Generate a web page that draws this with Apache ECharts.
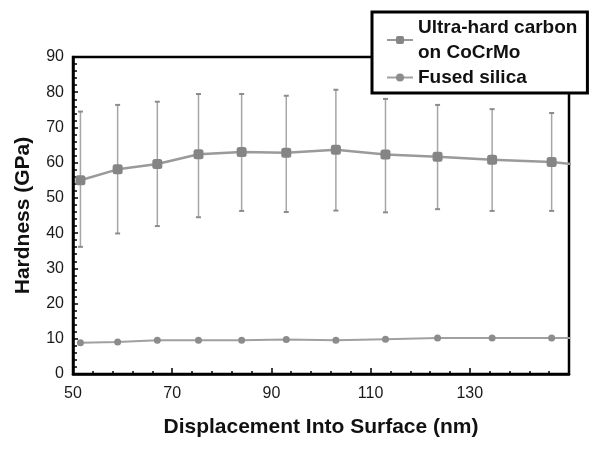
<!DOCTYPE html>
<html>
<head>
<meta charset="utf-8">
<script src="https://cdn.jsdelivr.net/npm/echarts@6/dist/echarts.min.js"></script>
<style>
  html, body { margin: 0; padding: 0; background: #fff; }
  #chart { width: 602px; height: 453px; }
</style>
</head>
<body>
<div id="chart"></div>
<script>
// displacement (nm) of each indent depth
const depth = [51.5, 59, 67, 75.3, 84, 93, 103, 113, 123.5, 134.5, 146.5]
// ultra-hard carbon on CoCrMo: mean hardness and error bar limits (GPa)
const carbonMean = [55.0, 58.1, 59.6, 62.4, 63.0, 62.8, 63.7, 62.3, 61.7, 60.8, 60.2]
const carbonLow = [36.1, 39.9, 42.0, 44.5, 46.3, 46.0, 46.4, 45.9, 46.8, 46.3, 46.3]
const carbonHigh = [74.5, 76.4, 77.3, 79.5, 79.5, 79.0, 80.7, 78.1, 76.4, 75.2, 74.1]
// fused silica mean hardness (GPa)
const silicaMean = [8.9, 9.1, 9.6, 9.6, 9.6, 9.8, 9.6, 9.9, 10.2, 10.2, 10.2]
// next point past the axis end (line runs off the right edge)
const tailDepth = 155
const carbonTail = 58.9
const silicaTail = 10.2

const xTicks = [50, 70, 90, 110, 130]

const chart = echarts.init(document.getElementById('chart'))

const carbonData = depth.map((x, i) => [x, carbonMean[i]]).concat([[tailDepth, carbonTail]])
const silicaData = depth.map((x, i) => [x, silicaMean[i]]).concat([[tailDepth, silicaTail]])
const errData = depth.map((x, i) => [x, carbonLow[i], carbonHigh[i]])

function renderError(params, api) {
  const x = api.value(0)
  const top = api.coord([x, api.value(2)])
  const bot = api.coord([x, api.value(1)])
  const cap = 2.5
  const style = { stroke: '#a6a6a6', lineWidth: 1.5 }
  return {
    type: 'group',
    children: [
      { type: 'line', shape: { x1: top[0], y1: top[1], x2: bot[0], y2: bot[1] }, style },
      { type: 'line', shape: { x1: top[0] - cap, y1: top[1], x2: top[0] + cap, y2: top[1] }, style: { stroke: '#8c8c8c', lineWidth: 2 } },
      { type: 'line', shape: { x1: bot[0] - cap, y1: bot[1], x2: bot[0] + cap, y2: bot[1] }, style: { stroke: '#8c8c8c', lineWidth: 2 } }
    ]
  }
}

const font = 'Liberation Sans, Arial, sans-serif'

chart.setOption({
  backgroundColor: '#fff',
  animation: false,
  grid: {
    left: 73, top: 57, right: 33, bottom: 79,
    show: true, borderColor: '#000', borderWidth: 2.5
  },
  legend: {
    orient: 'vertical',
    left: 372, top: 12,
    width: 230,
    padding: [3, 10, 3, 14],
    backgroundColor: '#fff',
    borderColor: '#000',
    borderWidth: 3,
    itemWidth: 26, itemHeight: 10,
    itemGap: 0,
    textStyle: { fontFamily: font, fontSize: 19, fontWeight: 'bold', color: '#111', lineHeight: 25 },
    data: ['Ultra-hard carbon\non CoCrMo', 'Fused silica']
  },
  xAxis: {
    type: 'value',
    min: 50, max: 150, interval: 20,
    name: 'Displacement Into Surface (nm)',
    nameLocation: 'middle', nameGap: 43,
    nameTextStyle: { fontFamily: font, fontSize: 21, fontWeight: 'bold', color: '#111' },
    axisLine: { lineStyle: { color: '#000', width: 2.5 } },
    axisTick: { inside: true, length: 6, lineStyle: { color: '#000', width: 1.5 } },
    minorTick: { show: true, splitNumber: 5, length: 3, lineStyle: { color: '#000', width: 1.5 } },
    axisLabel: {
      fontFamily: font, fontSize: 16, color: '#1a1a1a', margin: 12,
      formatter: v => (xTicks.includes(v) ? String(v) : '')
    },
    splitLine: { show: false }
  },
  yAxis: {
    type: 'value',
    min: 0, max: 90, interval: 10,
    name: 'Hardness (GPa)',
    nameLocation: 'middle', nameGap: 39,
    nameTextStyle: { fontFamily: font, fontSize: 21, fontWeight: 'bold', color: '#111' },
    axisLine: { show: true, lineStyle: { color: '#000', width: 2.5 } },
    axisTick: { inside: true, length: 5, lineStyle: { color: '#000', width: 1.5 } },
    minorTick: { show: true, splitNumber: 5, length: 4, lineStyle: { color: '#000', width: 1.5 } },
    axisLabel: { fontFamily: font, fontSize: 16, color: '#1a1a1a', margin: 9 },
    splitLine: { show: false }
  },
  series: [
    {
      type: 'custom',
      renderItem: renderError,
      data: errData,
      encode: { x: 0, y: [1, 2] },
      z: 1
    },
    {
      name: 'Ultra-hard carbon\non CoCrMo',
      type: 'line',
      data: carbonData,
      clip: true,
      symbol: 'roundRect',
      symbolSize: 10,
      itemStyle: { color: '#858585' },
      lineStyle: { color: '#9a9a9a', width: 2.5 },
      z: 3
    },
    {
      name: 'Fused silica',
      type: 'line',
      data: silicaData,
      clip: true,
      symbol: 'circle',
      symbolSize: 7,
      itemStyle: { color: '#8c8c8c' },
      lineStyle: { color: '#a0a0a0', width: 2 },
      z: 3
    }
  ]
})
</script>
</body>
</html>
